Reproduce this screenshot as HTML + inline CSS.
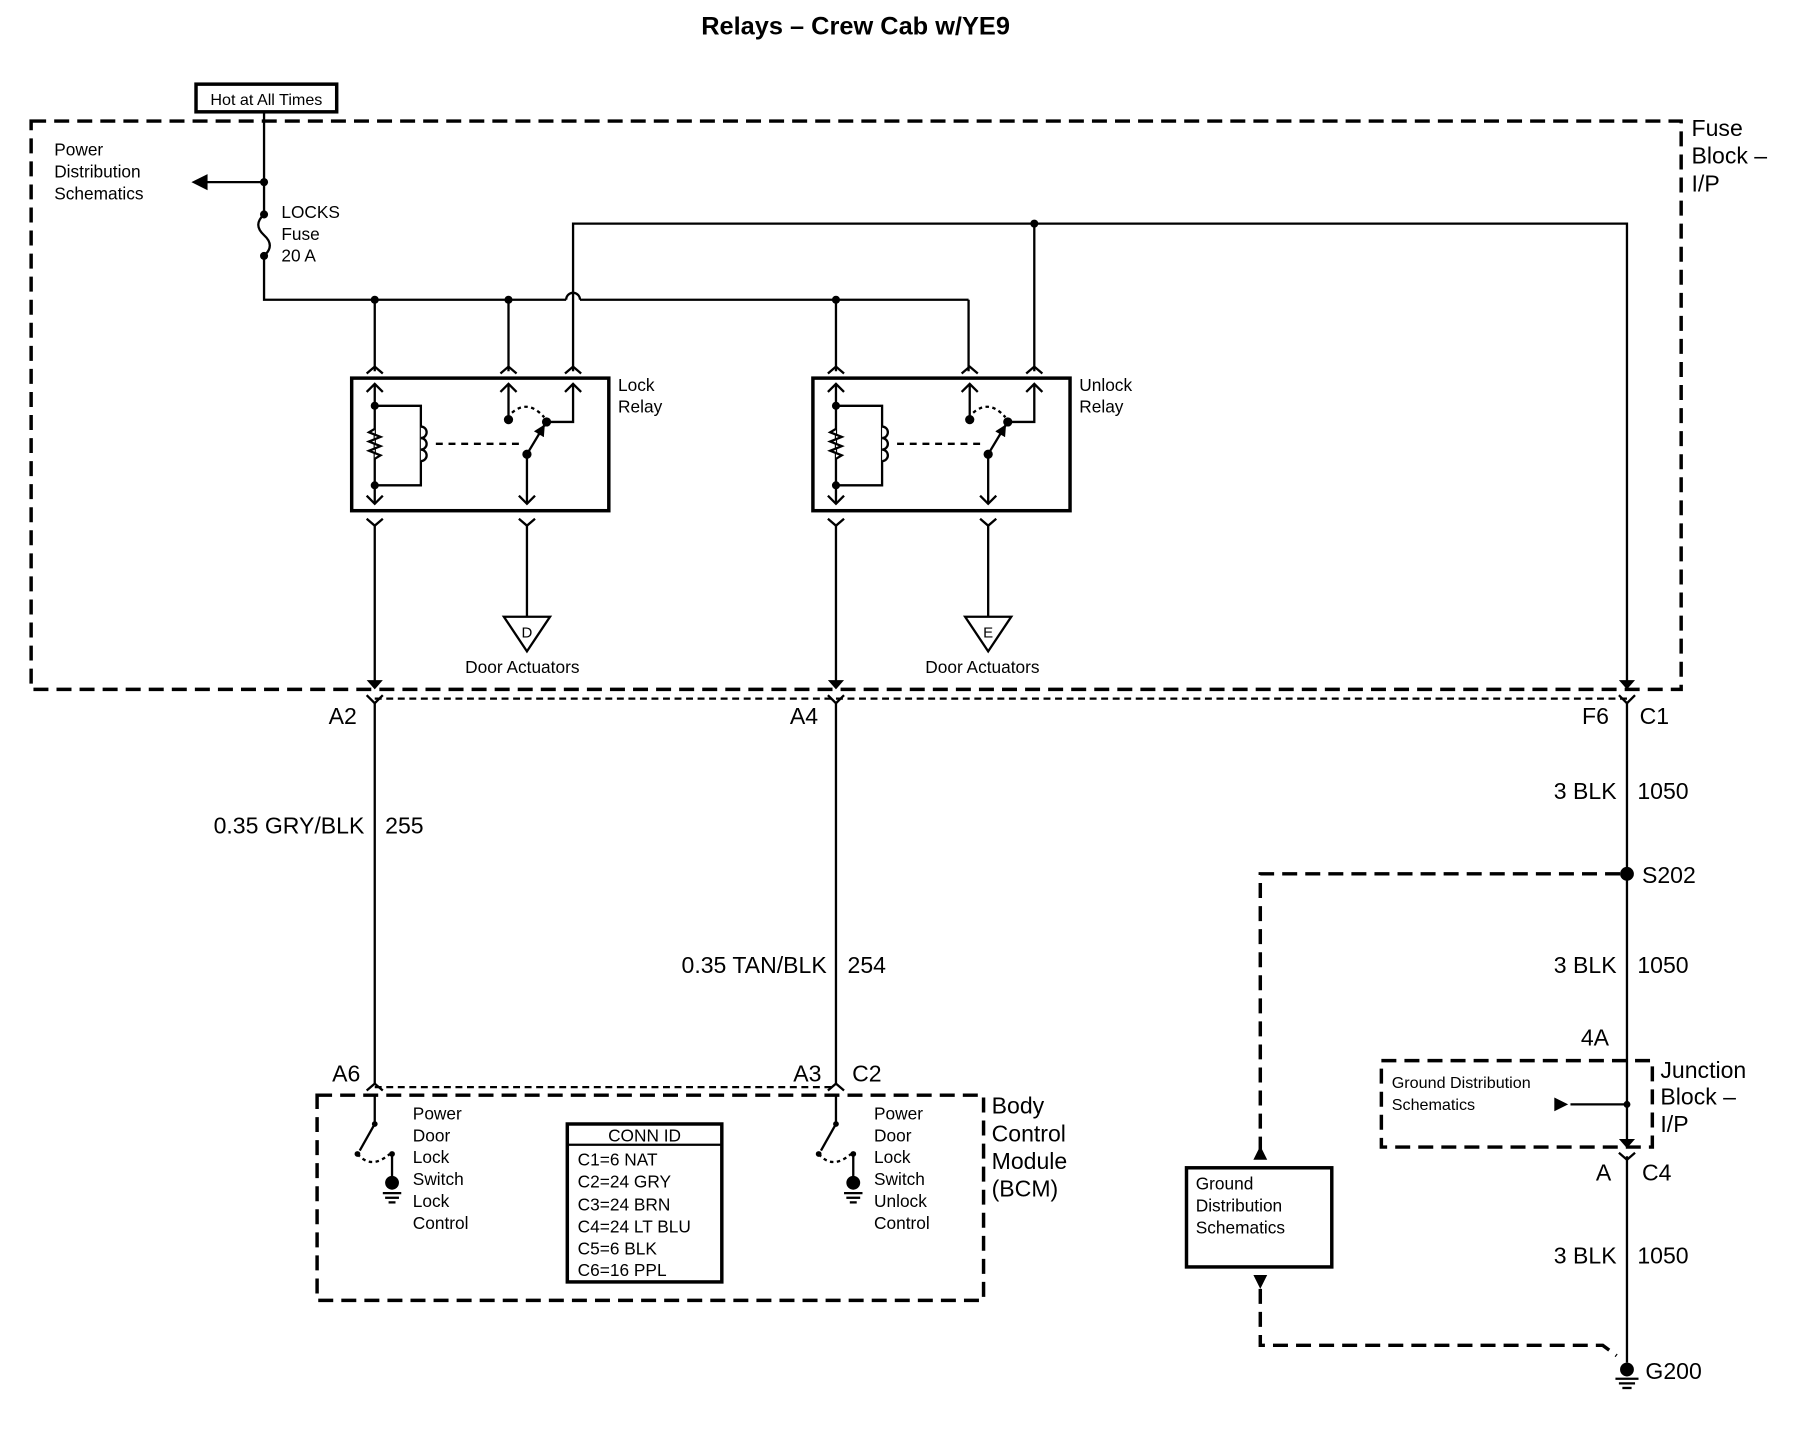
<!DOCTYPE html>
<html><head><meta charset="utf-8"><style>
html,body{margin:0;padding:0;background:#fff}
svg{display:block}
text{font-family:"Liberation Sans",Arial,sans-serif;fill:#000}
</style></head><body>
<svg width="1808" height="1456" viewBox="0 0 1568 1263" preserveAspectRatio="none" xmlns="http://www.w3.org/2000/svg">
<defs>
<marker id="ah" viewBox="0 0 10 10" refX="9" refY="5" markerWidth="5" markerHeight="5" orient="auto"><path d="M0,0 L10,5 L0,10 z" fill="#000"/></marker>
<marker id="ch" viewBox="0 0 10 10" refX="9" refY="5" markerWidth="5" markerHeight="5" orient="auto"><path d="M0,0 L10,5 L0,10" fill="none" stroke="#000" stroke-width="2"/></marker>
</defs>
<g stroke="#000" fill="none" stroke-width="2">
<!-- title -->
</g>
<text x="742" y="30" font-size="22" font-weight="bold" text-anchor="middle">Relays – Crew Cab w/YE9</text>
<rect x="170" y="73" width="122" height="24" fill="none" stroke="#000" stroke-width="3"/>
<text x="231" y="91" font-size="14" text-anchor="middle">Hot at All Times</text>

<g stroke="#000" fill="none" stroke-width="3" stroke-dasharray="13 7">
<rect x="27" y="105" width="1431" height="493"/>
<line x1="325" y1="606" x2="1411" y2="606" stroke-width="2" stroke-dasharray="6 4"/>
<rect x="275" y="950" width="578" height="178"/>
<line x1="325" y1="943" x2="725" y2="943" stroke-width="2" stroke-dasharray="6 4"/>
<rect x="1198" y="920" width="235" height="75"/>
<polyline points="1405,758 1093,758 1093,998"/>
<polyline points="1093,1118 1093,1167 1390,1167 1402,1176"/>
</g>
<text font-size="20"><tspan x="1467" y="118">Fuse</tspan><tspan x="1467" y="142">Block –</tspan><tspan x="1467" y="166">I/P</tspan></text>
<text font-size="15"><tspan x="47" y="135">Power</tspan><tspan x="47" y="154">Distribution</tspan><tspan x="47" y="173">Schematics</tspan></text>
<text font-size="15"><tspan x="244" y="189">LOCKS</tspan><tspan x="244" y="208">Fuse</tspan><tspan x="244" y="227">20 A</tspan></text>

<g stroke="#000" fill="none" stroke-width="2">
<line x1="229" y1="97" x2="229" y2="186"/>
<line x1="229" y1="158" x2="176" y2="158"/>
<path d="M229,186 q-10,9 0,18 q10,9 0,18"/>
<polyline points="229,222 229,260 491,260"/>
<path d="M491,260 a6,6 0 0 1 12,0"/>
<line x1="503" y1="260" x2="840" y2="260"/>
<line x1="840" y1="260" x2="840" y2="322"/>
<polyline points="497,322 497,194 1411,194 1411,594"/>
<line x1="897" y1="194" x2="897" y2="322"/>
<line x1="325" y1="260" x2="325" y2="322"/>
<line x1="441" y1="260" x2="441" y2="322"/>
<line x1="725" y1="260" x2="725" y2="322"/>
</g>
<path d="M166,158 l14,-7 v14 z" fill="#000"/>
<g fill="#000">
<circle cx="229" cy="158" r="3.5"/><circle cx="229" cy="186" r="3.5"/><circle cx="229" cy="222" r="3.5"/>
<circle cx="325" cy="260" r="3.5"/><circle cx="441" cy="260" r="3.5"/><circle cx="725" cy="260" r="3.5"/>
<circle cx="897" cy="194" r="3.5"/>
</g>

<!-- relays -->
<g id="relay">
<g stroke="#000" fill="none" stroke-width="2">
<rect x="305" y="328" width="223" height="115" stroke-width="3"/>
<path d="M318,324 l7,-6 l7,6 M434,324 l7,-6 l7,6 M490,324 l7,-6 l7,6"/>
<path d="M318,340 l7,-7 l7,7 M434,340 l7,-7 l7,7 M490,340 l7,-7 l7,7"/>
<line x1="325" y1="333" x2="325" y2="437"/>
<path d="M318,430 l7,7 l7,-7 M450,430 l7,7 l7,-7"/>
<path d="M318,450 l7,6 l7,-6 M450,450 l7,6 l7,-6"/>
<polyline points="325,352 365,352 365,421 325,421"/>
<path d="M325,372 l-5,3 l10,4 l-10,4 l10,4 l-10,4 l10,4 l-5,3" fill="#fff"/>
<path d="M365,370 a5,5 0 0 1 0,10 a5,5 0 0 1 0,10 a5,5 0 0 1 0,10" fill="#fff"/>
<line x1="378" y1="385" x2="455" y2="385" stroke-dasharray="6 5"/>
<line x1="441" y1="333" x2="441" y2="364"/>
<polyline points="474,366 497,366 497,333"/>
<line x1="457" y1="394" x2="472" y2="369" marker-end="url(#ah)"/>
<path d="M444,358 q14,-12 28,4" stroke-dasharray="3 3"/>
<line x1="457" y1="394" x2="457" y2="437"/>
<line x1="325" y1="456" x2="325" y2="594"/>
<line x1="457" y1="456" x2="457" y2="535"/>
<path d="M437,535 h40 l-20,30 z"/>
</g>
<g fill="#000"><circle cx="325" cy="352" r="3.5"/><circle cx="325" cy="421" r="3.5"/><circle cx="441" cy="364" r="4"/><circle cx="474" cy="366" r="4"/><circle cx="457" cy="394" r="4"/></g>
<path d="M318,590 l7,8 l7,-8 z" fill="#000"/>
</g>
<text x="457" y="553" font-size="13" text-anchor="middle">D</text>
<text x="453" y="584" font-size="15" text-anchor="middle">Door Actuators</text>
<text font-size="15"><tspan x="536" y="339">Lock</tspan><tspan x="536" y="358">Relay</tspan></text>
<use href="#relay" transform="translate(400,0)"/>
<text x="857" y="553" font-size="13" text-anchor="middle">E</text>
<text x="852" y="584" font-size="15" text-anchor="middle">Door Actuators</text>
<text font-size="15"><tspan x="936" y="339">Unlock</tspan><tspan x="936" y="358">Relay</tspan></text>
<path d="M1404,590 l7,8 l7,-8 z" fill="#000"/>

<!-- lower connectors -->
<g stroke="#000" fill="none" stroke-width="2">
<path d="M318,603 l7,7 l7,-7 M718,603 l7,7 l7,-7 M1404,603 l7,7 l7,-7"/>
<line x1="325" y1="610" x2="325" y2="940"/>
<line x1="725" y1="610" x2="725" y2="940"/>
<line x1="1411" y1="610" x2="1411" y2="990"/>
<path d="M318,946 l7,-6 l7,6 M718,946 l7,-6 l7,6"/>
<line x1="1411" y1="1003" x2="1411" y2="1182"/>
<path d="M1404,1000 l7,6 l7,-6"/>
<line x1="1362" y1="958" x2="1411" y2="958"/>
</g>
<path d="M1404,988 l7,8 l7,-8 z" fill="#000"/>
<path d="M1348,952 l12,6 l-12,6 z" fill="#000"/>
<circle cx="1411" cy="958" r="3" fill="#000"/>
<circle cx="1411" cy="758" r="6" fill="#000"/>
<text font-size="20">
<tspan x="285" y="628">A2</tspan><tspan x="685" y="628">A4</tspan><tspan x="1372" y="628">F6</tspan><tspan x="1422" y="628">C1</tspan>
<tspan x="316" y="723" text-anchor="end">0.35 GRY/BLK</tspan><tspan x="334" y="723">255</tspan>
<tspan x="717" y="844" text-anchor="end">0.35 TAN/BLK</tspan><tspan x="735" y="844">254</tspan>
<tspan x="1402" y="693" text-anchor="end">3 BLK</tspan><tspan x="1420" y="693">1050</tspan>
<tspan x="1424" y="766">S202</tspan>
<tspan x="1402" y="844" text-anchor="end">3 BLK</tspan><tspan x="1420" y="844">1050</tspan>
<tspan x="1371" y="907">4A</tspan>
<tspan x="1384" y="1024">A</tspan><tspan x="1424" y="1024">C4</tspan>
<tspan x="1402" y="1096" text-anchor="end">3 BLK</tspan><tspan x="1420" y="1096">1050</tspan>
<tspan x="1427" y="1196">G200</tspan>
<tspan x="288" y="938">A6</tspan><tspan x="688" y="938">A3</tspan><tspan x="739" y="938">C2</tspan>
</text>
<text font-size="20"><tspan x="1440" y="935">Junction</tspan><tspan x="1440" y="958">Block –</tspan><tspan x="1440" y="982">I/P</tspan></text>
<text font-size="20"><tspan x="860" y="966">Body</tspan><tspan x="860" y="990">Control</tspan><tspan x="860" y="1014">Module</tspan><tspan x="860" y="1038">(BCM)</tspan></text>
<text font-size="14"><tspan x="1207" y="944">Ground Distribution</tspan><tspan x="1207" y="963">Schematics</tspan></text>

<!-- ground dist box -->
<rect x="1029" y="1013" width="126" height="86" fill="none" stroke="#000" stroke-width="3"/>
<text font-size="15"><tspan x="1037" y="1032">Ground</tspan><tspan x="1037" y="1051">Distribution</tspan><tspan x="1037" y="1070">Schematics</tspan></text>
<path d="M1087,1006 l6,-12 l6,12 z M1087,1106 l6,12 l6,-12 z" fill="#000"/>

<!-- G200 -->
<circle cx="1411" cy="1188" r="6" fill="#000"/>
<g stroke="#000" stroke-width="2"><line x1="1401" y1="1196" x2="1421" y2="1196"/><line x1="1404" y1="1200" x2="1418" y2="1200"/><line x1="1407" y1="1204" x2="1415" y2="1204"/></g>

<!-- BCM switches -->
<g id="sw">
<g stroke="#000" fill="none" stroke-width="2">
<line x1="325" y1="950" x2="325" y2="975"/>
<line x1="325" y1="975" x2="312" y2="998"/>
<path d="M310,1001 q12,14 28,0" stroke-dasharray="3 3"/>
<line x1="340" y1="1001" x2="340" y2="1024"/>
<line x1="332" y1="1035" x2="348" y2="1035"/><line x1="334" y1="1039" x2="346" y2="1039"/><line x1="337" y1="1043" x2="343" y2="1043"/>
</g>
<circle cx="325" cy="975" r="2.5" fill="#000"/><circle cx="310" cy="1001" r="2.5" fill="#000"/><circle cx="340" cy="1001" r="2.5" fill="#000"/>
<circle cx="340" cy="1026" r="6" fill="#000"/>
</g>
<use href="#sw" transform="translate(400,0)"/>
<text font-size="15"><tspan x="358" y="971">Power</tspan><tspan x="358" y="990">Door</tspan><tspan x="358" y="1009">Lock</tspan><tspan x="358" y="1028">Switch</tspan><tspan x="358" y="1047">Lock</tspan><tspan x="358" y="1066">Control</tspan></text>
<text font-size="15"><tspan x="758" y="971">Power</tspan><tspan x="758" y="990">Door</tspan><tspan x="758" y="1009">Lock</tspan><tspan x="758" y="1028">Switch</tspan><tspan x="758" y="1047">Unlock</tspan><tspan x="758" y="1066">Control</tspan></text>

<!-- CONN ID -->
<rect x="492" y="975" width="134" height="137" fill="none" stroke="#000" stroke-width="3"/>
<line x1="492" y1="993" x2="626" y2="993" stroke="#000" stroke-width="2"/>
<text x="559" y="990" font-size="15" text-anchor="middle">CONN ID</text>
<text font-size="15"><tspan x="501" y="1011">C1=6 NAT</tspan><tspan x="501" y="1030">C2=24 GRY</tspan><tspan x="501" y="1050">C3=24 BRN</tspan><tspan x="501" y="1069">C4=24 LT BLU</tspan><tspan x="501" y="1088">C5=6 BLK</tspan><tspan x="501" y="1107">C6=16 PPL</tspan></text>
</svg>
</body></html>
